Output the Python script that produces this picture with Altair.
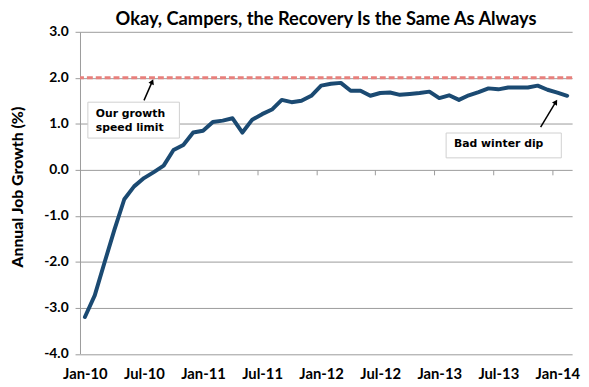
import altair as alt
import pandas as pd

# ---- data ----
growth = [-3.20, -2.73, -2.01, -1.30, -0.64, -0.36, -0.18, -0.05, 0.09, 0.43,
          0.54, 0.81, 0.85, 1.04, 1.07, 1.12, 0.81, 1.09, 1.21, 1.31,
          1.52, 1.47, 1.50, 1.61, 1.83, 1.87, 1.89, 1.72, 1.72, 1.61,
          1.67, 1.68, 1.63, 1.65, 1.67, 1.70, 1.56, 1.62, 1.52, 1.62,
          1.69, 1.77, 1.75, 1.79, 1.79, 1.79, 1.83, 1.74, 1.68, 1.61]
months = pd.date_range("2010-01-01", periods=len(growth), freq="MS")
tick_labels = ["Jan-10", "Jul-10", "Jan-11", "Jul-11", "Jan-12",
               "Jul-12", "Jan-13", "Jul-13", "Jan-14"]
speed_limit = [2.0]

# annotations (data coordinates: month index, growth %)
box_x1 = [0.3, 36.7]
box_x2 = [9.6, 48.4]
box_y1 = [1.47, 0.80]
box_y2 = [0.69, 0.26]
note_text = ["Our growth", "speed limit", "Bad winter dip"]
note_x = [1.1, 1.1, 37.5]
note_y = [1.21, 0.91, 0.56]
arrow_x1 = [6.0, 46.3]
arrow_y1 = [1.51, 0.93]
arrow_x2 = [6.8, 47.8]
arrow_y2 = [1.90, 1.46]
arrow_angle = [24, 32]

df = pd.DataFrame({"idx": range(len(growth)), "month": months.strftime("%b-%y"), "growth": growth})
limit_df = pd.DataFrame({"limit": speed_limit})
box_df = pd.DataFrame({"x1": box_x1, "x2": box_x2, "y1": box_y1, "y2": box_y2})
note_df = pd.DataFrame({"t": note_text, "x": note_x, "y": note_y})
arrow_df = pd.DataFrame({"x1": arrow_x1, "y1": arrow_y1, "x2": arrow_x2, "y2": arrow_y2, "ang": arrow_angle})

xscale = alt.Scale(domain=[-0.5, len(growth) - 0.5], nice=False, zero=False)
yscale = alt.Scale(domain=[-4, 3], nice=False, zero=False)

label_arr = "[" + ",".join("'" + s + "'" for s in tick_labels) + "]"
FONT = "Lato"
GRID = "#9a9a9a"

line = alt.Chart(df).mark_line(color="#1b4a72", strokeWidth=4, strokeJoin="round", strokeCap="round").encode(
    x=alt.X("idx:Q", scale=xscale,
            axis=alt.Axis(values=list(range(0, 49, 6)), labelExpr=label_arr + "[round(datum.value/6)]",
                          ticks=False, domain=False, grid=False, title=None, orient="bottom",
                          labelFont=FONT, labelFontWeight="bold", labelFontSize=15, labelColor="black",
                          labelPadding=13, labelBaseline="top")),
    y=alt.Y("growth:Q", scale=yscale,
            axis=alt.Axis(values=[v / 2 for v in range(-8, 7)],
                          labelExpr="datum.value % 1 === 0 ? replace(format(datum.value, '.1f'), '\u2212', '-') : ''",
                          grid=True, gridColor=GRID, gridWidth=1,
                          gridOpacity={"condition": {"test": "datum.value % 1 !== 0", "value": 0}, "value": 1},
                          domainColor=GRID, tickColor=GRID, tickSize=5, domainWidth=1,
                          labelFont=FONT, labelFontWeight="bold", labelFontSize=14, labelColor="black",
                          labelPadding=7,
                          title="Annual Job Growth (%)", titleFont=FONT, titleFontWeight=900,
                          titleFontSize=16, titleColor="black", titleY=157, titleX=-63,
                          titleBaseline="middle", titleAngle=-90)),
)

limit = alt.Chart(limit_df).mark_rule(color="#e8807c", strokeWidth=3, strokeDash=[6, 3]).encode(
    y=alt.Y("limit:Q", scale=yscale)
)

boxes = alt.Chart(box_df).mark_rect(fill="white", stroke="#cfcfcf", strokeWidth=1).encode(
    x=alt.X("x1:Q", scale=xscale,
            axis=alt.Axis(values=[5.5 + 6 * i for i in range(8)], labels=False, domain=False, grid=False,
                          ticks=True, tickSize=5, tickColor=GRID, title=None, orient="bottom",
                          offset=-186.5)),
    x2="x2:Q",
    y=alt.Y("y1:Q", scale=yscale),
    y2="y2:Q",
)

notes = alt.Chart(note_df).mark_text(font="DejaVu Sans", fontWeight="bold", fontSize=11, align="left",
                                      baseline="middle", color="black").encode(
    x=alt.X("x:Q", scale=xscale, axis=None),
    y=alt.Y("y:Q", scale=yscale),
    text="t:N",
)

arrows = alt.Chart(arrow_df).mark_rule(color="black", strokeWidth=1.5).encode(
    x=alt.X("x1:Q", scale=xscale, axis=None),
    y=alt.Y("y1:Q", scale=yscale),
    x2="x2:Q",
    y2="y2:Q",
)
heads = alt.Chart(arrow_df).mark_point(shape="triangle", filled=True, color="black", size=35, opacity=1).encode(
    x=alt.X("x2:Q", scale=xscale, axis=None),
    y=alt.Y("y2:Q", scale=yscale),
    angle=alt.Angle("ang:Q", scale=None),
)

chart = alt.layer(line, limit, boxes, notes, arrows, heads).resolve_axis(x="independent").properties(
    width=499, height=326.5,
    autosize=alt.AutoSizeParams(type="none"),
    padding={"left": 73, "top": 21.5, "right": 9, "bottom": 31},
    title=alt.TitleParams("Okay, Campers, the Recovery Is the Same As Always", font=FONT, fontWeight="bold",
                          fontSize=18.5, color="black", anchor="middle", frame="group", offset=4, dy=8),
).configure_view(stroke=None)

chart.save("out.html", embed_options={"renderer": "svg", "actions": False})
